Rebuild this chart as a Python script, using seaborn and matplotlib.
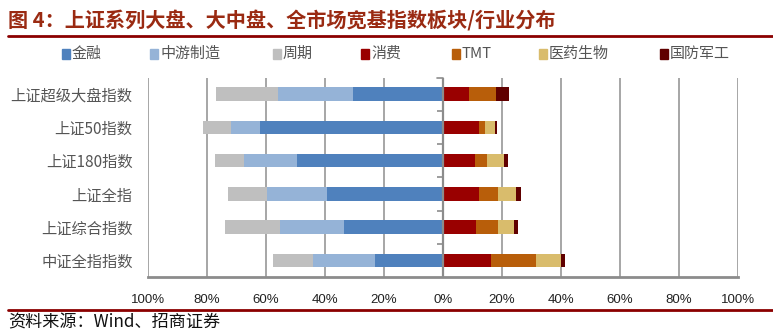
import matplotlib
matplotlib.use("Agg")
import matplotlib.pyplot as plt
import seaborn as sns
import pandas as pd
import numpy as np
from matplotlib.patches import Rectangle
from matplotlib.lines import Line2D

sns.set_style("white")
plt.rcParams['font.family'] = ['Noto Sans CJK SC', 'DejaVu Sans']

categories = ["上证超级大盘指数", "上证50指数", "上证180指数", "上证全指", "上证综合指数", "中证全指指数"]
finance = [30.4, 61.9, 49.4, 39.2, 33.5, 23.2]
midstream = [25.5, 10.1, 17.9, 20.4, 21.6, 20.8]
cyclical = [21.2, 9.5, 10.0, 13.3, 18.9, 13.7]
consumer = [8.9, 12.3, 10.9, 12.3, 11.3, 16.4]
tmt = [9.0, 2.0, 4.1, 6.4, 7.4, 15.2]
pharma = [0.0, 3.2, 5.8, 5.9, 5.2, 8.4]
defense = [4.6, 0.8, 1.3, 1.8, 1.4, 1.5]

series_names = ["金融", "中游制造", "周期", "消费", "TMT", "医药生物", "国防军工"]
colors = ["#4F81BD", "#95B3D7", "#BFBFBF", "#990000", "#B85E0A", "#D9BC6C", "#600000"]

df = pd.DataFrame({"cat": categories, "金融": finance, "中游制造": midstream, "周期": cyclical,
                   "消费": consumer, "TMT": tmt, "医药生物": pharma, "国防军工": defense})

fig = plt.figure(figsize=(7.73, 3.34), dpi=100)
ax = fig.add_axes([148/773, 1-277/334, 590/773, 199.5/334])

# left side (negative stacked): draw cumulative sums largest first
left_series = ["金融", "中游制造", "周期"]
left_cols = colors[:3]
cum = np.zeros(len(df))
cums = []
for s in left_series:
    cum = cum + df[s].values
    cums.append(cum.copy())
for s, c, cv in reversed(list(zip(left_series, left_cols, cums))):
    sns.barplot(x=-cv, y=df["cat"], orient="h", color=c, width=0.4, ax=ax,
                linewidth=0, saturation=1, zorder=3)

right_series = ["消费", "TMT", "医药生物", "国防军工"]
right_cols = colors[3:]
cum = np.zeros(len(df))
cums = []
for s in right_series:
    cum = cum + df[s].values
    cums.append(cum.copy())
for s, c, cv in reversed(list(zip(right_series, right_cols, cums))):
    sns.barplot(x=cv, y=df["cat"], orient="h", color=c, width=0.4, ax=ax,
                linewidth=0, saturation=1, zorder=3)

ax.set_xlim(-100, 100)
ax.set_ylim(len(categories)-0.5, -0.5)
ticks = list(range(-100, 101, 20))
ax.set_xticks(ticks)
ax.set_xticklabels([f"{abs(t)}%" for t in ticks], fontsize=9.5, color="#222222",
                   family=["Liberation Sans", "DejaVu Sans"])
ax.set_xlabel("")
ax.set_ylabel("")
ax.tick_params(axis="y", length=0, labelsize=11, labelcolor="#555555", pad=11)
ax.tick_params(axis="x", length=4, width=1.2, color="#999999", direction="out", pad=8)

for t in ticks:
    if t != 0:
        ax.axvline(t, color="#A6A6A6", lw=1.4, zorder=1)
ax.axvline(0, color="#8C8C8C", lw=1.6, zorder=4)
# small ticks on zero axis between rows
for yb in np.arange(0.5, len(categories)-0.5, 1.0):
    ax.plot([-2, 0], [yb, yb], color="#8C8C8C", lw=1.2, zorder=4, solid_capstyle="butt")
ax.plot([-2, 0], [-0.5, -0.5], color="#8C8C8C", lw=1.2, zorder=4, clip_on=False)

for sp in ["top", "right", "left"]:
    ax.spines[sp].set_visible(False)
ax.spines["bottom"].set_color("#8C8C8C")
ax.spines["bottom"].set_linewidth(2)

# title
fig.text(8/773, 1-21/334, "图 4：上证系列大盘、大中盘、全市场宽基指数板块/行业分布", fontsize=14.5,
         fontweight="bold", color="#9A2A12", va="center", ha="left")
fig.add_artist(Line2D([8/773, 1.0], [1-36/334, 1-36/334], color="#8B0000", lw=2))
fig.add_artist(Line2D([8/773, 1.0], [1-309.5/334, 1-309.5/334], color="#8B0000", lw=2))
fig.text(8/773, 1-322/334, "资料来源：Wind、招商证券", fontsize=12.3, color="#111111",
         va="center", ha="left")

# legend
leg_x = [62, 150, 273, 361, 452, 539, 660]
for name, c, x in zip(series_names, colors, leg_x):
    fig.add_artist(Rectangle((x/773, 1-58.5/334), 8/773, 9/334, color=c, transform=fig.transFigure))
    fig.text((x+10)/773, 1-54/334, name, fontsize=10.8, color="#555555", va="center", ha="left")

fig.savefig("out.png", dpi=100)
